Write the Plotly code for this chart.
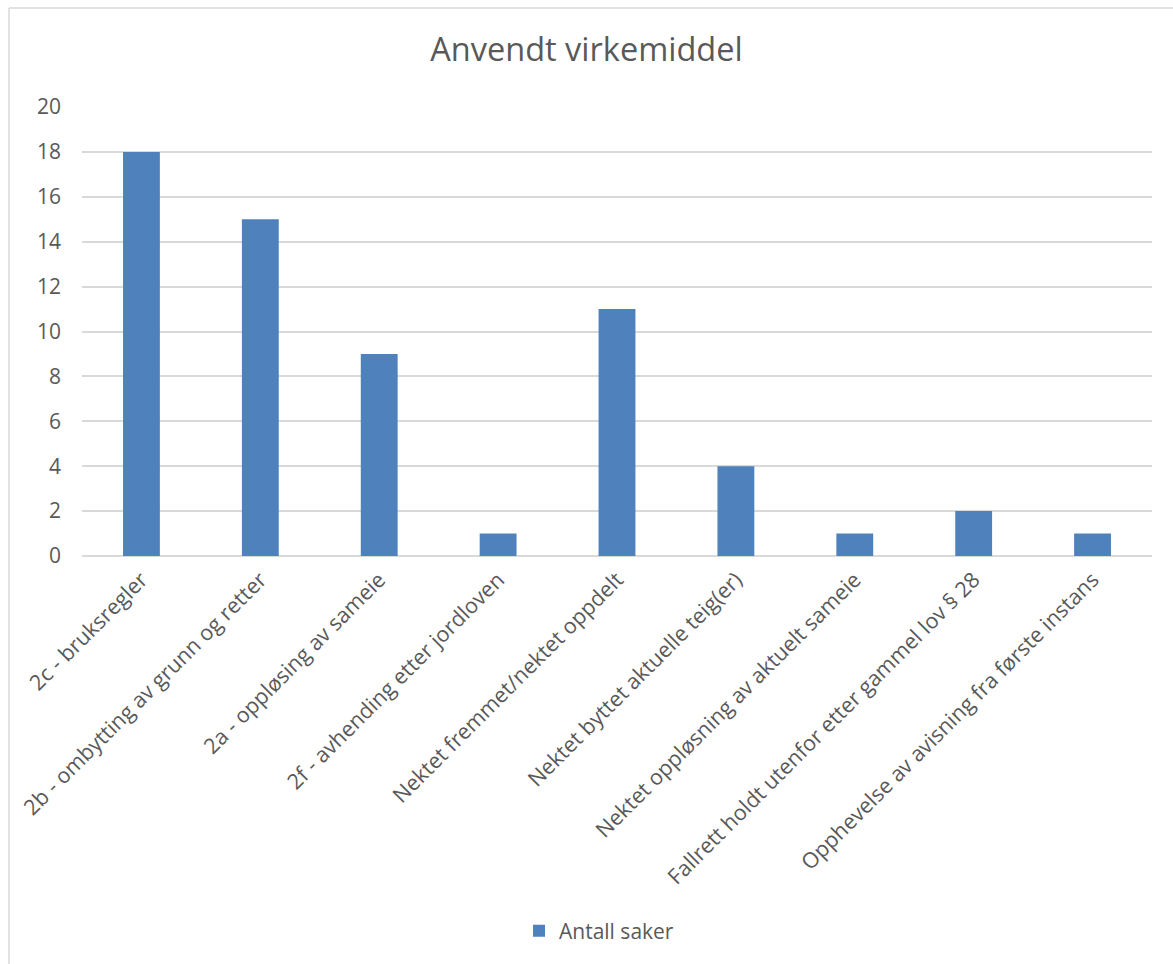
import plotly.graph_objects as go

categories = [
    "2c - bruksregler",
    "2b - ombytting av grunn og retter",
    "2a - oppløsing av sameie",
    "2f - avhending etter jordloven",
    "Nektet fremmet/nektet oppdelt",
    "Nektet byttet aktuelle teig(er)",
    "Nektet oppløsning av aktuelt sameie",
    "Fallrett holdt utenfor etter gammel lov § 28",
    "Opphevelse av avisning fra første instans",
]
values = [18, 15, 9, 1, 11, 4, 1, 2, 1]
series_name = "Antall saker"
title_text = "Anvendt virkemiddel"
y_ticks = [0, 2, 4, 6, 8, 10, 12, 14, 16, 18, 20]

FONT = "Open Sans"
TXT = "#595959"

fig = go.Figure()
fig.add_trace(go.Bar(
    x=categories, y=values, name=series_name,
    marker=dict(color="#4F81BD", line=dict(width=0)),
    showlegend=True,
))

L, R, T, B = 82, 21, 107, 408
W, H = 1173, 964
pw = W - L - R
ph = H - T - B

fig.update_layout(
    width=W, height=H,
    margin=dict(l=L, r=R, t=T, b=B),
    paper_bgcolor="white", plot_bgcolor="white",
    bargap=0.69,
    font=dict(family=FONT, color=TXT, size=21),
    title=dict(text=title_text, x=0.5, xanchor="center", y=1 - 50 / H, yanchor="middle",
               font=dict(family=FONT, size=32.5, color=TXT)),
    xaxis=dict(tickangle=-45, showgrid=False, showline=False, ticks="",
               ticklabelstandoff=6,
               tickfont=dict(family=FONT, size=21.5, color=TXT)),
    yaxis=dict(range=[0, 20], tickvals=y_ticks, showgrid=True, gridcolor="#D9D9D9",
               gridwidth=1.5, zeroline=True, zerolinecolor="#D9D9D9", zerolinewidth=1.5,
               showline=False, ticks="", ticklen=0, ticklabelstandoff=20,
               tickfont=dict(family=FONT, size=21, color=TXT)),
    legend=dict(orientation="h", x=0.5 - 18 / pw, xanchor="center", y=-(931 - (T + ph)) / ph,
                yanchor="middle", itemwidth=30,
                font=dict(family=FONT, size=21, color=TXT)),
    shapes=[
        dict(type="line", xref="paper", yref="paper",
             x0=(9 - L) / pw, x1=(9 - L) / pw, y0=1 + (T - 8) / ph, y1=-(H - T - ph) / ph,
             line=dict(color="#D9D9D9", width=1.5)),
        dict(type="line", xref="paper", yref="paper",
             x0=(9 - L) / pw, x1=(W - L) / pw, y0=1 + (T - 8) / ph, y1=1 + (T - 8) / ph,
             line=dict(color="#D9D9D9", width=1.5)),
    ],
)

fig.write_html("out.html")
